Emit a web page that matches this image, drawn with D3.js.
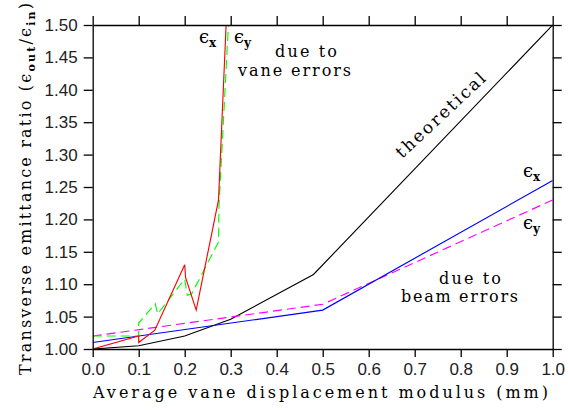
<!DOCTYPE html>
<html>
<head>
<meta charset="utf-8">
<script src="https://cdn.jsdelivr.net/npm/d3@7"></script>
<style>
  body { margin: 0; background: #fff; }
  svg { display: block; }
  .tick text { font-family: "Liberation Sans", sans-serif; font-size: 17px; fill: #222; }
  .lbl { font-family: "DejaVu Serif", serif; fill: #000; }
</style>
</head>
<body>
<svg id="chart" width="568" height="410"></svg>
<script>
// x ticks / y ticks
const xTicks = [0, 0.1, 0.2, 0.3, 0.4, 0.5, 0.6, 0.7, 0.8, 0.9, 1.0];
const yTicks = [1.00, 1.05, 1.10, 1.15, 1.20, 1.25, 1.30, 1.35, 1.40, 1.45, 1.50];

// theoretical curve
const theoX = [0, 0.1, 0.2, 0.3, 0.48, 1.0];
const theoY = [1.0, 1.005, 1.02, 1.046, 1.115, 1.5];

// beam errors
const beamX = [0, 0.5, 1.0];
const beamEx = [1.01, 1.06, 1.26];
const beamEy = [1.02, 1.069, 1.23];

// vane errors
const vaneXx = [0, 0.1, 0.1, 0.135, 0.2, 0.202, 0.225, 0.2735, 0.29];
const vaneEx = [1.0, 1.02, 1.01, 1.029, 1.13, 1.11, 1.06, 1.23, 1.5];
const vaneXy = [0, 0.1, 0.1, 0.136, 0.141, 0.2, 0.2055, 0.215, 0.2735, 0.2745, 0.295];
const vaneEy = [1.02, 1.02, 1.04, 1.07, 1.054, 1.108, 1.083, 1.085, 1.165, 1.22, 1.5];

const svg = d3.select('#chart');
const x = d3.scaleLinear().domain([0, 1]).range([92.7, 552.7]);
const y = d3.scaleLinear().domain([1, 1.5]).range([349, 25]);

svg.append('clipPath').attr('id', 'clip')
  .append('rect').attr('x', x(0)).attr('y', y(1.5))
  .attr('width', x(1) - x(0)).attr('height', y(1) - y(1.5));

const line = d3.line().x(d => x(d[0])).y(d => y(d[1]));
const zip = (a, b) => a.map((v, i) => [v, b[i]]);

const g = svg.append('g').attr('clip-path', 'url(#clip)');
const series = [
  {pts: zip(theoX, theoY), color: '#000', dash: null},
  {pts: zip(beamX, beamEy), color: '#ff00ff', dash: '9,5'},
  {pts: zip(beamX, beamEx), color: '#0000ff', dash: null},
  {pts: zip(vaneXy, vaneEy), color: '#00ff00', dash: '9,5'},
  {pts: zip(vaneXx, vaneEx), color: '#ff0000', dash: null}
];
series.forEach(s => {
  g.append('path').attr('d', line(s.pts))
    .attr('fill', 'none').attr('stroke', s.color)
    .attr('stroke-width', 1.15)
    .attr('stroke-dasharray', s.dash);
});

// axes, ticks outward on all four sides
const fmtX = d3.format('.1f'), fmtY = d3.format('.2f');
const styleAxis = sel => {
  sel.selectAll('path.domain').attr('stroke', '#000').attr('stroke-width', 1.3);
  sel.selectAll('.tick line').attr('stroke', '#000').attr('stroke-width', 1.3);
};
svg.append('g').attr('transform', `translate(0,${y(1)})`)
  .call(d3.axisBottom(x).tickValues(xTicks).tickFormat(fmtX).tickSize(8).tickSizeOuter(0).tickPadding(6))
  .call(styleAxis);
svg.append('g').attr('transform', `translate(0,${y(1.5)})`)
  .call(d3.axisTop(x).tickValues(xTicks).tickFormat('').tickSize(9).tickSizeOuter(0))
  .call(styleAxis);
svg.append('g').attr('transform', `translate(${x(0)},0)`)
  .call(d3.axisLeft(y).tickValues(yTicks).tickFormat(fmtY).tickSize(9).tickSizeOuter(0).tickPadding(6))
  .call(styleAxis);
svg.append('g').attr('transform', `translate(${x(1)},0)`)
  .call(d3.axisRight(y).tickValues(yTicks).tickFormat('').tickSize(9).tickSizeOuter(0))
  .call(styleAxis);
svg.selectAll('.tick text').attr('fill', '#222');

// axis titles
svg.append('text').attr('class', 'lbl')
  .attr('x', 93).attr('y', 398).attr('font-size', 16)
  .attr('textLength', 455).attr('lengthAdjust', 'spacing')
  .text('Average vane displacement modulus (mm)');

const yl = svg.append('text').attr('class', 'lbl')
  .attr('transform', 'translate(31,375) rotate(-90)')
  .attr('font-size', 16)
  .attr('textLength', 372).attr('lengthAdjust', 'spacing');
yl.append('tspan').text('Transverse emittance ratio (\u03f5');
yl.append('tspan').attr('font-size', 11).attr('font-weight', 'bold').attr('dy', 4).text('out');
yl.append('tspan').attr('dy', -4).text('/\u03f5');
yl.append('tspan').attr('font-size', 11).attr('font-weight', 'bold').attr('dy', 4).text('in');
yl.append('tspan').attr('dy', -4).text(')');

// annotations
const note = (tx, ty, txt, len) => svg.append('text').attr('class', 'lbl')
  .attr('x', tx).attr('y', ty).attr('font-size', 16)
  .attr('textLength', len).attr('lengthAdjust', 'spacing').text(txt);
note(275, 57, 'due to', 62);
note(238, 76, 'vane errors', 113);
note(439, 284, 'due to', 62);
note(401, 302, 'beam errors', 117);

const eps = (tx, ty, sub) => {
  const t = svg.append('text').attr('class', 'lbl').attr('x', tx).attr('y', ty).attr('font-size', 18);
  t.append('tspan').text('\u03f5');
  t.append('tspan').attr('font-size', 12).attr('font-weight', 'bold').attr('dy', 4).text(sub);
};
eps(199, 43, 'x');
eps(234, 43, 'y');
eps(523, 177, 'x');
eps(523, 229, 'y');

svg.append('text').attr('class', 'lbl')
  .attr('transform', 'translate(402,159) rotate(-43)')
  .attr('font-size', 17)
  .attr('textLength', 116).attr('lengthAdjust', 'spacing')
  .text('theoretical');
</script>
</body>
</html>
